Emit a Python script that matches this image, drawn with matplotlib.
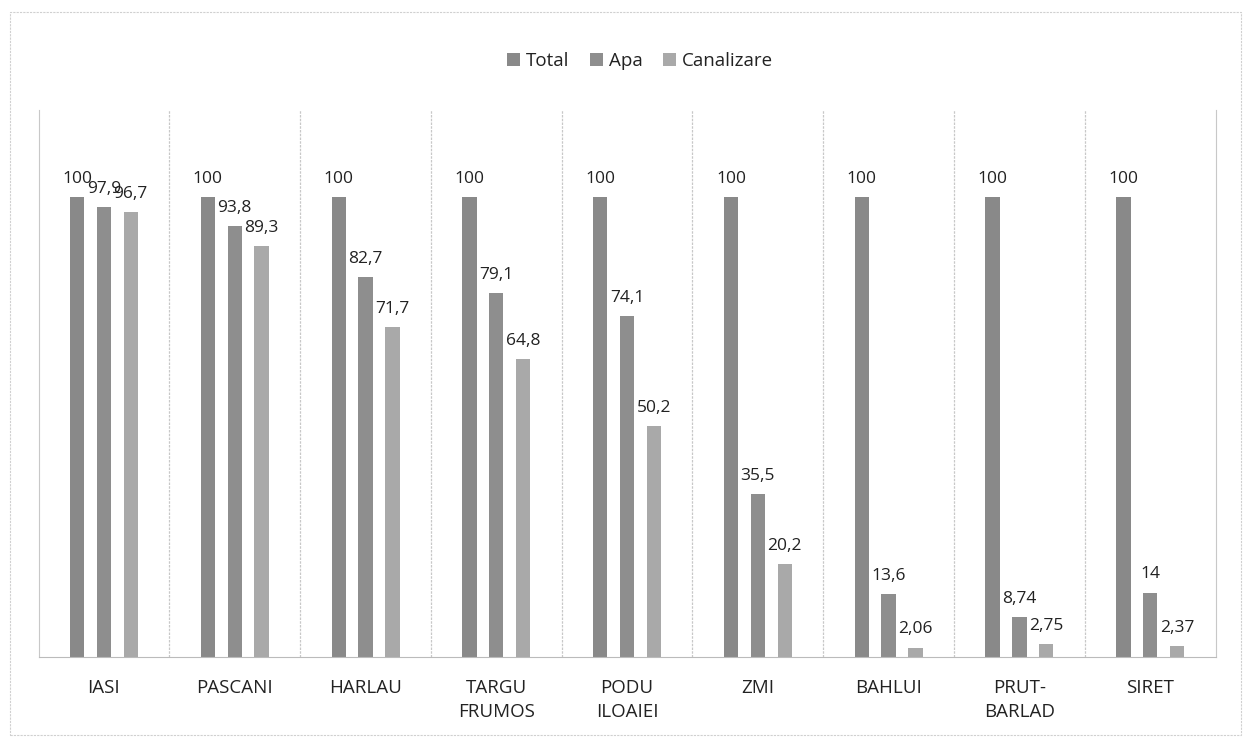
import numpy as np
import matplotlib
matplotlib.use("Agg")
import matplotlib.pyplot as plt
from matplotlib.patches import Rectangle

categories = ["IASI", "PASCANI", "HARLAU", "TARGU\nFRUMOS", "PODU\nILOAIEI",
              "ZMI", "BAHLUI", "PRUT-\nBARLAD", "SIRET"]
total = [100, 100, 100, 100, 100, 100, 100, 100, 100]
apa = [97.9, 93.8, 82.7, 79.1, 74.1, 35.5, 13.6, 8.74, 14]
canalizare = [96.7, 89.3, 71.7, 64.8, 50.2, 20.2, 2.06, 2.75, 2.37]

series = [("Total", total, "#898989"),
          ("Apa", apa, "#8e8e8e"),
          ("Canalizare", canalizare, "#a9a9a9")]

plt.rcParams['font.family'] = ['Open Sans', 'DejaVu Sans']

fig = plt.figure(figsize=(12.43, 7.47), dpi=100)
ax = fig.add_axes([0.031, 0.1205, 0.947, 0.7325])

x = np.arange(len(categories))
width = 0.11
offsets = [-0.205, 0, 0.205]

def fmt(v):
    # romanian decimal comma
    return ("%g" % v).replace(".", ",")

for (name, vals, col), off in zip(series, offsets):
    bars = ax.bar(x + off, vals, width, color=col, label=name)
    for b, v in zip(bars, vals):
        ax.text(b.get_x() + b.get_width() / 2, v + 2.2, fmt(v),
                ha="center", va="bottom", fontsize=12.5, color="#222222")

ax.set_xlim(-0.5, len(categories) - 0.5)
ax.set_ylim(0, 119)
ax.set_yticks([])
ax.set_xticks(x)
ax.set_xticklabels(categories, fontsize=13.5, color="#222222", linespacing=1.4)
ax.tick_params(axis="x", length=0, pad=16)

# category separators
for b in np.arange(0.5, len(categories) - 0.5, 1):
    ax.axvline(b, color="#c8c8c8", lw=0.9, ls=(0, (2, 1)))
ax.spines["top"].set_visible(False)
for side in ["left", "right"]:
    ax.spines[side].set_color("#c8c8c8")
    ax.spines[side].set_linestyle((0, (2, 1)))
ax.spines["bottom"].set_color("#bbbbbb")

leg = fig.legend(loc="center", bbox_to_anchor=(0.515, 0.918), ncol=3, frameon=False,
                 fontsize=13.5, handlelength=0.7, handleheight=0.7,
                 handletextpad=0.3, columnspacing=1.1)
for t in leg.get_texts():
    t.set_color("#222222")

# outer chart frame
fig.patches.append(Rectangle((0.008, 0.016), 0.99, 0.968, transform=fig.transFigure,
                             fill=False, edgecolor="#d0d0d0", lw=0.8, ls=(0, (2, 1))))

fig.savefig("out.png", dpi=100)
